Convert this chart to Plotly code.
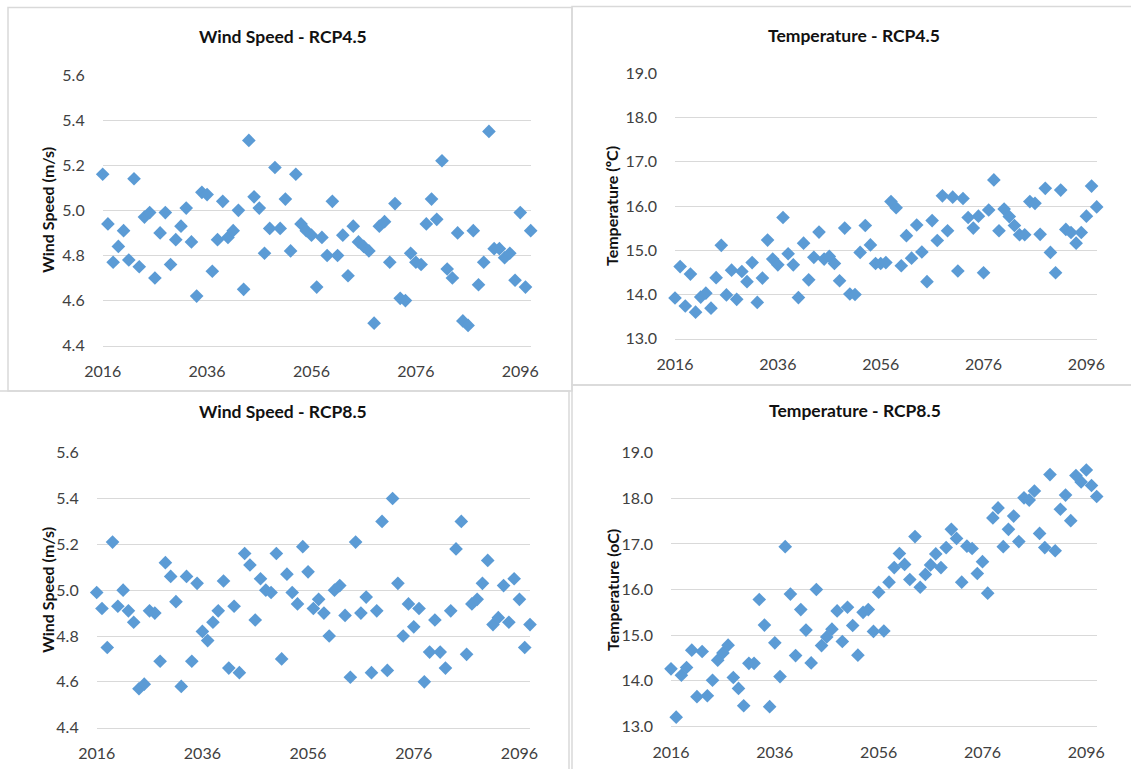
import plotly.graph_objects as go

# ---- data ---------------------------------------------------------------
years = list(range(2016, 2099))

wind_rcp45 = [
    5.16, 4.94, 4.77, 4.84, 4.91, 4.78, 5.14, 4.75, 4.97, 4.99,
    4.70, 4.90, 4.99, 4.76, 4.87, 4.93, 5.01, 4.86, 4.62, 5.08,
    5.07, 4.73, 4.87, 5.04, 4.88, 4.91, 5.00, 4.65, 5.31, 5.06,
    5.01, 4.81, 4.92, 5.19, 4.92, 5.05, 4.82, 5.16, 4.94, 4.91,
    4.89, 4.66, 4.88, 4.80, 5.04, 4.80, 4.89, 4.71, 4.93, 4.86,
    4.84, 4.82, 4.50, 4.93, 4.95, 4.77, 5.03, 4.61, 4.60, 4.81,
    4.77, 4.76, 4.94, 5.05, 4.96, 5.22, 4.74, 4.70, 4.90, 4.51,
    4.49, 4.91, 4.67, 4.77, 5.35, 4.83, 4.83, 4.79, 4.81, 4.69,
    4.99, 4.66, 4.91,
]

temp_rcp45 = [
    13.92, 14.63, 13.74, 14.46, 13.60, 13.94, 14.03, 13.69, 14.38, 15.11,
    13.99, 14.55, 13.89, 14.52, 14.29, 14.72, 13.82, 14.37, 15.23, 14.80,
    14.67, 15.74, 14.92, 14.67, 13.93, 15.16, 14.33, 14.84, 15.41, 14.80,
    14.86, 14.70, 14.31, 15.50, 14.01, 14.00, 14.95, 15.56, 15.12, 14.70,
    14.70, 14.72, 16.10, 15.96, 14.65, 15.33, 14.82, 15.57, 14.96, 14.29,
    15.67, 15.22, 16.23, 15.44, 16.20, 14.53, 16.17, 15.74, 15.50, 15.77,
    14.49, 15.91, 16.59, 15.44, 15.93, 15.76, 15.56, 15.35, 15.35, 16.10,
    16.06, 15.36, 16.40, 14.95, 14.49, 16.36, 15.47, 15.40, 15.16, 15.40,
    15.77, 16.45, 15.98,
]

wind_rcp85 = [
    4.99, 4.92, 4.75, 5.21, 4.93, 5.00, 4.91, 4.86, 4.57, 4.59,
    4.91, 4.90, 4.69, 5.12, 5.06, 4.95, 4.58, 5.06, 4.69, 5.03,
    4.82, 4.78, 4.86, 4.91, 5.04, 4.66, 4.93, 4.64, 5.16, 5.11,
    4.87, 5.05, 5.00, 4.99, 5.16, 4.70, 5.07, 4.99, 4.94, 5.19,
    5.08, 4.92, 4.96, 4.90, 4.80, 5.00, 5.02, 4.89, 4.62, 5.21,
    4.90, 4.97, 4.64, 4.91, 5.30, 4.65, 5.40, 5.03, 4.80, 4.94,
    4.84, 4.92, 4.60, 4.73, 4.87, 4.73, 4.66, 4.91, 5.18, 5.30,
    4.72, 4.94, 4.96, 5.03, 5.13, 4.85, 4.88, 5.02, 4.86, 5.05,
    4.96, 4.75, 4.85,
]

temp_rcp85 = [
    14.26, 13.20, 14.12, 14.29, 14.67, 13.65, 14.64, 13.67, 14.01, 14.45,
    14.61, 14.78, 14.07, 13.83, 13.45, 14.38, 14.38, 15.78, 15.22, 13.43,
    14.83, 14.09, 16.94, 15.90, 14.55, 15.56, 15.11, 14.39, 16.00, 14.77,
    14.96, 15.13, 15.53, 14.86, 15.61, 15.21, 14.56, 15.50, 15.56, 15.08,
    15.94, 15.09, 16.16, 16.48, 16.79, 16.55, 16.22, 17.16, 16.05, 16.33,
    16.54, 16.78, 16.48, 16.92, 17.32, 17.12, 16.16, 16.95, 16.90, 16.35,
    16.61, 15.92, 17.57, 17.79, 16.94, 17.32, 17.61, 17.05, 18.01, 17.96,
    18.16, 17.23, 16.92, 18.52, 16.85, 17.76, 18.07, 17.51, 18.50, 18.36,
    18.62, 18.28, 18.04,
]

year_ticks = [2016, 2036, 2056, 2076, 2096]
wind_ticks = [4.4, 4.6, 4.8, 5.0, 5.2, 5.4, 5.6]
temp_ticks = [13.0, 14.0, 15.0, 16.0, 17.0, 18.0, 19.0]

panel_titles = ["Wind Speed - RCP4.5", "Temperature - RCP4.5",
                "Wind Speed - RCP8.5", "Temperature - RCP8.5"]
y_titles = ["Wind Speed (m/s)", "Temperature (ºC)",
            "Wind Speed (m/s)", "Temperature (oC)"]

# ---- page geometry (pixels) ---------------------------------------------
W, H = 1131, 769
FONT = "Lato, 'Open Sans', sans-serif"
BLUE = "#5B9BD5"
GRID = "#D9D9D9"
TICK_COLOR = "#404040"

# plot areas: (x0, x1, y_top, y_bottom)
areas = [
    (102.7, 530.7, 75.0, 345.7),
    (675.0, 1096.7, 73.3, 338.7),
    (96.7, 530.0, 452.7, 727.7),
    (671.0, 1096.7, 452.7, 726.3),
]
# chart boxes: (x0, y0, x1, y1)
boxes = [
    (8, 7.5, 572, 391),
    (572, 6.5, 1140, 385),
    (-5, 391, 569, 780),
    (572, 385, 1140, 780),
]
title_pos = [(283, 37), (854, 35), (283, 411), (855, 410)]
ytitle_pos = [(47, 210), (611, 206), (47, 590), (612, 590)]

series = [wind_rcp45, temp_rcp45, wind_rcp85, temp_rcp85]
yticks = [wind_ticks, temp_ticks, wind_ticks, temp_ticks]


def fx(px):
    return px / W


def fy(py):
    return 1 - py / H


fig = go.Figure()
shapes = []
annotations = []

for i in range(4):
    n = "" if i == 0 else str(i + 1)
    x0, x1, yt, yb = areas[i]
    fig.add_trace(go.Scatter(
        x=years, y=series[i], mode="markers",
        marker=dict(symbol="diamond", size=10.5, color=BLUE,
                    line=dict(width=0)),
        xaxis="x" + n, yaxis="y" + n, showlegend=False,
        cliponaxis=False, hoverinfo="x+y",
    ))
    ticks = yticks[i]
    fig.update_layout(**{
        "xaxis" + n: dict(
            domain=[fx(x0), fx(x1)], anchor="y" + n,
            range=[2016, 2098], tickvals=year_ticks,
            showgrid=False, zeroline=False, automargin=False,
            showline=True, linecolor=GRID, linewidth=1,
            ticks="", ticklabelstandoff=11,
            tickfont=dict(family=FONT, size=16, color=TICK_COLOR),
        ),
        "yaxis" + n: dict(
            domain=[fy(yb), fy(yt)], anchor="x" + n,
            range=[ticks[0], ticks[-1]], tickvals=ticks,
            tickformat=".1f", automargin=False,
            showgrid=True, gridcolor=GRID, gridwidth=1,
            zeroline=False, showline=False,
            ticks="", ticklabelstandoff=17,
            tickfont=dict(family=FONT, size=16, color=TICK_COLOR),
        ),
    })
    bx0, by0, bx1, by1 = boxes[i]
    shapes.append(dict(
        type="rect", xref="paper", yref="paper",
        x0=fx(bx0), x1=fx(bx1), y0=fy(by1), y1=fy(by0),
        line=dict(color=GRID, width=1.5), fillcolor="rgba(0,0,0,0)",
        layer="below",
    ))
    tx, ty = title_pos[i]
    annotations.append(dict(
        text="<b>" + panel_titles[i] + "</b>", xref="paper", yref="paper",
        x=fx(tx), y=fy(ty), xanchor="center", yanchor="middle",
        showarrow=False, font=dict(family=FONT, size=17.5, color="#111111"),
    ))
    ax, ay = ytitle_pos[i]
    annotations.append(dict(
        text="<b>" + y_titles[i] + "</b>", xref="paper", yref="paper",
        x=fx(ax), y=fy(ay), xanchor="center", yanchor="middle",
        textangle=-90, showarrow=False,
        font=dict(family=FONT, size=16, color="#111111"),
    ))

fig.update_layout(
    width=W, height=H,
    margin=dict(l=0, r=0, t=0, b=0, autoexpand=False),
    paper_bgcolor="white", plot_bgcolor="white",
    shapes=shapes, annotations=annotations,
    showlegend=False,
)

fig.write_html(
    "out.html", include_plotlyjs=True, full_html=True,
    config={"displayModeBar": False},
    post_script="document.body.style.margin='0';"
                "document.body.style.overflow='hidden';",
)
